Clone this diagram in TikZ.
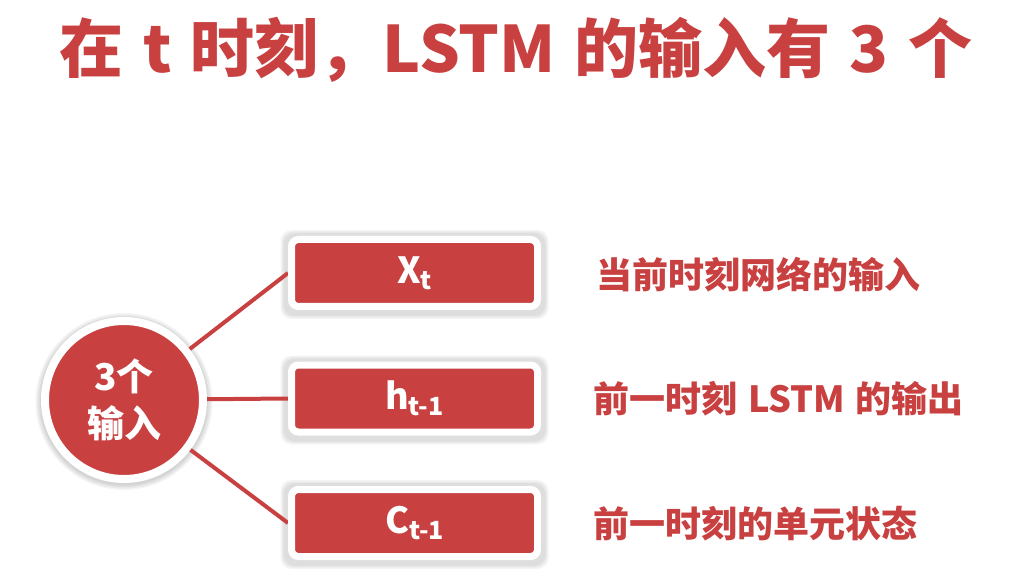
\documentclass[tikz,border=0pt]{standalone}
\usepackage{fontspec}
\setmainfont{Noto Sans CJK SC}
\definecolor{lstmred}{RGB}{200,65,64}
\pgfdeclarelayer{paper}
\pgfdeclarelayer{shade}
\pgfdeclarelayer{links}
\pgfsetlayers{paper,shade,links,main}
\newcommand\lowsub[1]{\raisebox{-0.32ex}{\fontsize{25}{25}\selectfont #1}}
\begin{document}
\begin{tikzpicture}[x=1pt,y=1pt,
  inbox/.style={rectangle, rounded corners=7pt, fill=lstmred, draw=white,
    line width=7pt, minimum width=246pt, minimum height=67pt, inner sep=0pt,
    text=white, font=\bfseries\fontsize{36}{36}\selectfont},
  hub/.style={circle, fill=lstmred, draw=white, line width=8pt,
    minimum size=158pt, inner sep=0pt, align=center, text=white,
    font=\bfseries\fontsize{37}{47}\selectfont},
  haze/.style={fill=black, opacity=0.045},
  conn/.style={draw=lstmred, line width=4pt},
  note/.style={anchor=west, inner sep=0pt, text=lstmred,
    font=\bfseries\fontsize{36}{36}\selectfont},
  headline/.style={inner sep=0pt, text=lstmred,
    font=\bfseries\fontsize{64}{64}\selectfont}]
  \begin{pgfonlayer}{paper}
    \fill[white] (0,0) rectangle (1021,-580);
  \end{pgfonlayer}
  \useasboundingbox (0,0) rectangle (1021,-580);

  % title
  \node[headline] (title) at (516,-50) {在\hspace{0.3em}t\hspace{0.3em}时刻，LSTM\hspace{0.3em}的输入有\hspace{0.3em}3\hspace{0.3em}个};

  % hub and the three input boxes
  \node[hub] (hub) at (124,-400) {3个\\输入};
  \node[inbox] (xt) at (414.5,-273) {X\lowsub{t}};
  \node[inbox] (ht) at (414.5,-398.5) {h\lowsub{t-1}};
  \node[inbox] (ct) at (414.5,-523) {C\lowsub{t-1}};

  % soft shadows under the hub and the boxes
  \begin{pgfonlayer}{shade}
    \foreach \r in {84,85.5,87,88.5}
      \fill[haze] ([yshift=-1.5pt]hub.center) circle (\r pt);
    \foreach \n in {xt,ht,ct}
      \foreach \g/\gl/\gu in {4.5/6/3, 6/7.5/4.5, 7.5/9/6}
        \fill[haze, rounded corners=11pt]
          ([shift={(-\g pt,-\gl pt)}]\n.south west) rectangle
          ([shift={(\g pt,\gu pt)}]\n.north east);
  \end{pgfonlayer}

  % connectors behind the shapes
  \begin{pgfonlayer}{links}
    \draw[conn] (hub.center) -- (xt.west);
    \draw[conn] (hub.center) -- (ht.west);
    \draw[conn] (hub.center) -- (ct.west);
  \end{pgfonlayer}

  % descriptions
  \node[note] (dx) at (596,-275) {当前时刻网络的输入};
  \node[note] (dh) at (593,-399) {前一时刻\hspace{0.3em}LSTM\hspace{0.3em}的输出};
  \node[note] (dc) at (593,-524) {前一时刻的单元状态};
\end{tikzpicture}
\end{document}
